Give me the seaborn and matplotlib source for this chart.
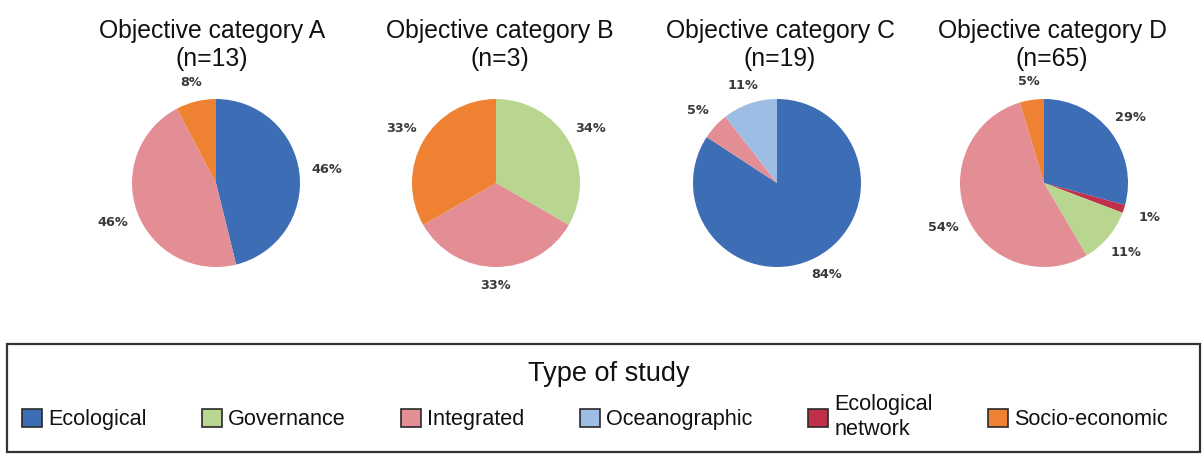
import matplotlib
matplotlib.use('Agg')
import numpy as np
import matplotlib.pyplot as plt
import seaborn as sns
from matplotlib.patches import Patch, Rectangle

# data

study_types = ['Ecological', 'Governance', 'Integrated', 'Oceanographic',
               'Ecological\nnetwork', 'Socio-economic']
type_colors = ['#3d6db5', '#b8d68f', '#e38d95', '#9dbde5', '#c0304a', '#ee8232']

categories = ['A', 'B', 'C', 'D']
n_studies = [13, 3, 19, 65]

a_types = ['Ecological', 'Integrated', 'Socio-economic']
a_counts = [6, 6, 1]
a_labels = ['46%', '46%', '8%']

b_types = ['Governance', 'Integrated', 'Socio-economic']
b_counts = [1, 1, 1]
b_labels = ['34%', '33%', '33%']

c_types = ['Ecological', 'Integrated', 'Oceanographic']
c_counts = [16, 1, 2]
c_labels = ['84%', '5%', '11%']

d_types = ['Ecological', 'Ecological\nnetwork', 'Governance', 'Integrated', 'Socio-economic']
d_counts = [19, 1, 7, 35, 3]
d_labels = ['29%', '1%', '11%', '54%', '5%']

pies = [(a_types, a_counts, a_labels), (b_types, b_counts, b_labels),
        (c_types, c_counts, c_labels), (d_types, d_counts, d_labels)]

# layout (pixels)

W, H = 1202, 454
centers_x = [216, 496, 777, 1044]
title_x = [212, 500, 780, 1052]
center_y = 183
R = 84

sns.set_theme(style='white')
plt.rcParams['font.family'] = ['Liberation Sans', 'DejaVu Sans']
palette = dict(zip(study_types, sns.color_palette(type_colors)))

fig = plt.figure(figsize=(W / 100, H / 100), dpi=100)

for i, (types, counts, labels) in enumerate(pies):
    cx = centers_x[i]
    ax = fig.add_axes([(cx - R) / W, 1 - (center_y + R) / H, 2 * R / W, 2 * R / H])
    wedges, _ = ax.pie(counts, colors=[palette[t] for t in types],
                       startangle=90, counterclock=False, radius=1,
                       wedgeprops=dict(linewidth=0))
    # percentage labels outside the slices, a bit closer at top/bottom
    for w, lab in zip(wedges, labels):
        ang = np.deg2rad((w.theta1 + w.theta2) / 2)
        r = 1.22 + 0.11 * np.cos(ang) ** 2
        ax.text(r * np.cos(ang), r * np.sin(ang), lab, ha='center', va='center',
                fontfamily='DejaVu Sans', fontsize=9.3, fontweight='bold', color='#3a3a3a')
    ax.set_xlim(-1, 1)
    ax.set_ylim(-1, 1)
    ax.axis('off')
    fig.text(title_x[i] / W, 1 - 45 / H,
             'Objective category %s\n(n=%d)' % (categories[i], n_studies[i]),
             ha='center', va='center', fontsize=17.8, linespacing=1.25, color='#111111')

# legend

handles = [Patch(facecolor=palette[t], edgecolor='#2a2a2a', linewidth=1.2) for t in study_types]
leg = fig.legend(handles, study_types, ncol=6,
                 loc='center left', bbox_to_anchor=(22 / W, 1 - 434 / H, 1146 / W, 34 / H),
                 mode='expand', fontsize=15.6,
                 handlelength=0.9, handleheight=0.9, handletextpad=0.3,
                 borderpad=0, columnspacing=1.0, frameon=False,
                 borderaxespad=0)
for t in leg.get_texts():
    t.set_color('#111111')
fig.text(609 / W, 1 - 374 / H, 'Type of study', ha='center', va='center',
         fontsize=19.5, color='#111111')

fig.add_artist(Rectangle((7 / W, 2 / H), 1193 / W, 108 / H, transform=fig.transFigure,
                         fill=False, edgecolor='#333333', linewidth=1.6))

fig.savefig('out.png', dpi=100, facecolor='white')
